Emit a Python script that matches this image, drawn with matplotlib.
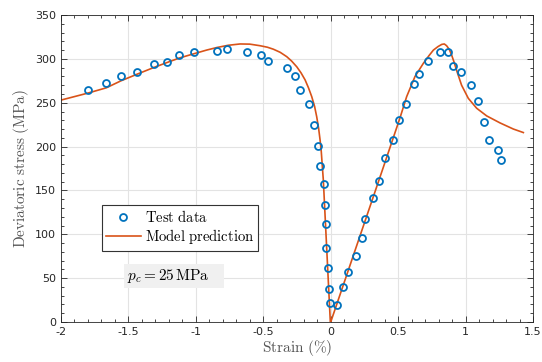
import matplotlib.pyplot as plt
from matplotlib.patches import Rectangle
import numpy as np

plt.rcParams["mathtext.fontset"] = "cm"
plt.rcParams["axes.unicode_minus"] = False

# test data (strain %, deviatoric stress MPa)
test_strain = [-1.80, -1.664, -1.555, -1.438, -1.308, -1.216, -1.122, -1.011,
               -0.843, -0.766, -0.623, -0.514, -0.462, -0.326, -0.267, -0.225,
               -0.161, -0.126, -0.096, -0.082, -0.050, -0.042, -0.033, -0.033,
               -0.018, -0.013, -0.003, 0.049, 0.091, 0.126, 0.19, 0.23, 0.257,
               0.314, 0.358, 0.403, 0.462, 0.506, 0.558, 0.615, 0.655, 0.719,
               0.810, 0.867, 0.907, 0.966, 1.042, 1.094, 1.139, 1.171, 1.238,
               1.262]
test_stress = [264, 272, 280, 285, 294, 297, 304, 307.5,
               309, 311, 307.5, 304, 297.5, 290, 280, 265,
               248, 225, 201, 178, 157, 133, 112, 84,
               61, 38, 22, 19.5, 39.5, 57, 75, 96, 117,
               141, 161, 187, 207.5, 230, 249, 271, 283, 298,
               308, 308, 292, 285, 270.5, 252, 228, 207, 196,
               185]

# model prediction
model_strain = [-2.0, -1.8, -1.664, -1.555, -1.438, -1.308, -1.216, -1.122,
                -1.011, -0.921, -0.843, -0.76, -0.672, -0.6, -0.524, -0.47,
                -0.425, -0.375, -0.326, -0.29, -0.252, -0.22, -0.19, -0.165,
                -0.141, -0.12, -0.104, -0.09, -0.079, -0.07, -0.064, -0.055,
                -0.003,
                0.0, 0.2, 0.4, 0.514, 0.563, 0.625, 0.687, 0.73, 0.761, 0.795,
                0.823, 0.842, 0.859, 0.878, 0.896, 0.915, 0.933, 0.97, 1.02,
                1.082, 1.156, 1.255, 1.354, 1.428]
model_stress = [253, 261, 267, 275, 282.4, 290.4, 295.7, 301,
                306, 310, 313, 315.5, 317, 316.8, 315, 313.3,
                311, 307.5, 302.5, 297.5, 291, 284, 276, 267,
                257, 246, 234, 221, 207.5, 194, 181, 162,
                0,
                0, 90.5, 181, 233, 257, 280, 295, 304, 310, 314,
                316.5, 317, 315, 311, 304.5, 296, 287, 270, 255,
                243.7, 235, 227, 220, 216]

blue = "#0072BD"
orange = "#D95319"
dark = "#262626"

fig = plt.figure(figsize=(5.42, 3.62), dpi=100)
ax = fig.add_axes([0.1125, 0.1105, 0.871, 0.848])

ax.plot(test_strain, test_stress, "o", markerfacecolor="none", markeredgecolor=blue,
        markersize=5, markeredgewidth=1.3, label=r"$\mathrm{Test\ data}$", zorder=3)
ax.plot(model_strain, model_stress, "-", color=orange, linewidth=1.2,
        label=r"$\mathrm{Model\ prediction}$", zorder=2)

ax.set_xlim(-2, 1.5)
ax.set_ylim(0, 350)
ax.set_xticks(np.arange(-2, 1.51, 0.5))
ax.set_xticklabels(["-2", "-1.5", "-1", "-0.5", "0", "0.5", "1", "1.5"])
ax.set_yticks(np.arange(0, 351, 50))
ax.set_xticks(np.arange(-2, 1.51, 0.1), minor=True)
ax.set_yticks(np.arange(0, 351, 10), minor=True)
ax.tick_params(which="both", direction="in", top=True, right=True,
               colors=dark, labelsize=8, width=0.6)
ax.tick_params(which="major", length=4)
ax.tick_params(which="minor", length=2)
for s in ax.spines.values():
    s.set_color(dark)
    s.set_linewidth(0.6)
ax.grid(which="major", color="#e3e3e3", linewidth=0.8)
ax.set_axisbelow(True)

ax.set_xlabel(r"$\mathrm{Strain\ (\%)}$", fontsize=11, color="#555555", labelpad=1)
ax.set_ylabel(r"$\mathrm{Deviatoric\ stress\ (MPa)}$", fontsize=11, color="#555555",
              labelpad=3)

leg = ax.legend(loc="lower left", bbox_to_anchor=(0.086, 0.232), borderaxespad=0,
                fontsize=10.5, fancybox=False, edgecolor="#333333", framealpha=1,
                handlelength=2.4, borderpad=0.3, labelspacing=0.15,
                handletextpad=0.25)
leg.get_frame().set_linewidth(0.8)

ax.add_patch(Rectangle((0.134, 0.110), 0.212, 0.079, transform=ax.transAxes,
                       facecolor="#f0f0f0", edgecolor="none", zorder=4))
ax.text(0.139, 0.15, r"$p_c = 25\,\mathrm{MPa}$", transform=ax.transAxes,
        fontsize=11, ha="left", va="center", zorder=5)

fig.savefig("out.png", dpi=100)
